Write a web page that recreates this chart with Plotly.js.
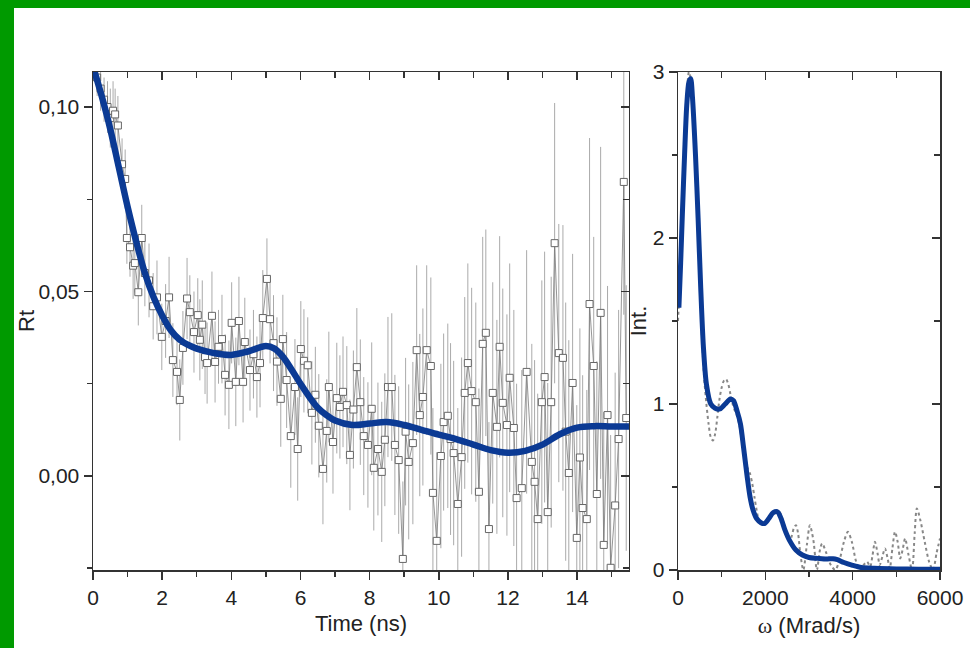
<!DOCTYPE html>
<html>
<head>
<meta charset="utf-8">
<script src="https://cdn.plot.ly/plotly-3.0.1.min.js"></script>
<style>
  html, body { margin: 0; padding: 0; width: 970px; height: 648px; background: #009a00; overflow: hidden; }
  #plot { position: absolute; left: 14px; top: 8px; width: 956px; height: 640px; background: #ffffff; }
</style>
</head>
<body>
<div id="plot"></div>
<script>
// ---- Left panel: anisotropy decay r(t) ----
const timeNs = [0.12,0.22,0.32,0.42,0.50,0.58,0.64,0.72,0.84,0.93,0.98,1.07,1.16,1.21,1.31,1.41,1.50,1.62,1.74,1.85,
  1.99,2.10,2.20,2.31,2.43,2.51,2.60,2.72,2.80,2.92,3.03,3.09,3.16,3.24,3.30,3.44,3.53,3.63,3.73,3.82,
  3.93,4.01,4.13,4.22,4.34,4.39,4.54,4.64,4.74,4.83,4.91,5.03,5.12,5.22,5.32,5.43,5.49,5.60,5.72,5.84,
  5.92,6.01,6.10,6.21,6.33,6.43,6.53,6.65,6.76,6.82,6.94,7.05,7.14,7.23,7.34,7.43,7.53,7.63,7.73,7.83,
  7.95,8.06,8.12,8.24,8.35,8.44,8.53,8.64,8.73,8.84,8.96,9.04,9.13,9.25,9.36,9.45,9.54,9.65,9.77,9.83,
  9.94,10.06,10.14,10.26,10.34,10.43,10.55,10.66,10.75,10.84,10.95,11.07,11.16,11.27,11.36,11.45,11.56,11.68,11.76,11.85,
  11.97,12.05,12.17,12.25,12.40,12.54,12.69,12.77,12.86,12.98,13.06,13.15,13.25,13.35,13.47,13.59,13.67,13.76,13.87,13.99,
  14.08,14.16,14.28,14.36,14.48,14.57,14.68,14.77,14.88,14.97,15.10,15.20,15.35,15.42];
const rtData = [0.108,0.105,0.102,0.100,0.097,0.099,0.098,0.095,0.0845,0.0805,0.0645,0.062,0.057,0.0577,0.0498,0.0645,0.055,0.053,0.046,0.0484,
  0.0377,0.042,0.0484,0.0314,0.0282,0.0206,0.0347,0.0481,0.0444,0.039,0.0436,0.0369,0.041,0.0322,0.0306,0.0434,0.0309,0.035,0.0371,0.0274,
  0.0247,0.0415,0.0255,0.042,0.0255,0.0363,0.0287,0.033,0.0268,0.0306,0.0428,0.0534,0.0425,0.036,0.031,0.0209,0.0371,0.026,0.0108,0.0241,
  0.0073,0.0344,0.0312,0.0300,0.0171,0.022,0.0136,0.0019,0.0122,0.0241,0.0092,0.0211,0.0187,0.0228,0.0192,0.0057,0.018,0.0295,0.020,0.0108,
  0.0084,0.0182,0.0022,0.0073,0.0011,0.0098,0.0241,0.0241,0.0084,0.0043,-0.0225,0.012,0.0038,0.0089,0.0341,0.0165,0.0214,0.0341,0.0298,-0.0046,
  -0.0176,0.0054,0.0146,0.0163,0.010,0.0062,-0.0076,0.0051,0.0225,0.0306,0.0230,0.0200,-0.0043,0.0358,0.0388,-0.0144,0.0225,0.0133,0.0350,0.0198,
  0.0138,0.0266,0.0130,-0.0060,-0.0033,0.0282,0.0038,-0.0016,-0.0117,0.0200,0.0268,-0.0098,0.020,0.0631,0.0333,0.0320,0.012,0.0008,0.0252,-0.0168,
  0.005,-0.0087,-0.0117,0.0466,0.0298,-0.0049,0.0442,-0.0187,0.0165,-0.0249,-0.008,0.010,0.0797,0.0157];
const rtErr = [0.005,0.006,0.006,0.007,0.008,0.008,0.007,0.008,0.007,0.008,0.007,0.008,0.009,0.008,0.009,0.009,0.009,0.010,0.009,0.010,
  0.009,0.010,0.011,0.010,0.009,0.011,0.010,0.011,0.010,0.011,0.010,0.011,0.012,0.010,0.011,0.012,0.011,0.010,0.012,0.011,
  0.012,0.011,0.012,0.012,0.011,0.012,0.011,0.012,0.011,0.012,0.013,0.011,0.012,0.013,0.012,0.013,0.012,0.013,0.014,0.013,
  0.014,0.013,0.014,0.013,0.014,0.013,0.014,0.015,0.014,0.015,0.014,0.015,0.014,0.015,0.016,0.015,0.016,0.016,0.017,0.016,
  0.017,0.018,0.017,0.018,0.019,0.018,0.019,0.020,0.019,0.020,0.021,0.020,0.021,0.022,0.023,0.022,0.024,0.023,0.024,0.023,
  0.024,0.025,0.024,0.025,0.026,0.025,0.026,0.027,0.026,0.027,0.028,0.027,0.028,0.029,0.028,0.029,0.030,0.029,0.030,0.031,
  0.030,0.031,0.032,0.031,0.032,0.033,0.032,0.033,0.034,0.033,0.034,0.035,0.034,0.038,0.035,0.036,0.035,0.036,0.035,0.036,
  0.035,0.036,0.035,0.045,0.035,0.036,0.045,0.036,0.035,0.036,0.036,0.035,0.036,0.036];
const fitTime = [0,0.25,0.5,0.75,1.0,1.25,1.5,1.75,2.0,2.25,2.5,2.75,3.0,3.5,4.0,4.5,5.0,5.25,5.5,5.75,
  6.0,6.25,6.5,6.75,7.0,7.5,8.0,8.5,9.0,9.5,10,10.5,11,11.5,12,12.5,13,13.5,14,14.5,15,15.5];
const fitRt = [0.111,0.103,0.094,0.0835,0.073,0.0635,0.055,0.0485,0.0435,0.0395,0.037,0.0355,0.0345,0.0333,0.0328,0.0338,0.0352,0.0345,0.0322,0.0287,
  0.025,0.0215,0.0185,0.0165,0.015,0.0138,0.0142,0.0146,0.0138,0.0125,0.0112,0.0100,0.0085,0.0070,0.0063,0.0068,0.0085,0.0113,0.0131,0.0135,0.0134,0.0134];

// ---- Right panel: frequency spectrum ----
const omega = [0,50,100,150,200,250,300,350,400,450,500,550,600,650,700,750,800,850,900,950,
  1000,1050,1100,1150,1200,1250,1300,1350,1400,1450,1500,1550,1600,1650,1700,1750,1800,1850,1900,1950,
  2000,2100,2200,2300,2400,2500,2550,2600,2650,2700,2750,2800,2870,2950,3020,3100,3180,3250,3300,3400,
  3500,3600,3700,3800,3890,3980,4080,4170,4250,4330,4400,4450,4510,4570,4620,4680,4740,4800,4850,4910,
  4970,5030,5090,5150,5200,5280,5360,5420,5470,5550,5650,5750,5840,5920,6000];
const intData = [1.5,1.8,2.15,2.5,2.85,3.0,2.95,2.75,2.45,2.1,1.75,1.4,1.15,1.0,0.88,0.8,0.78,0.82,0.92,1.03,
  1.1,1.14,1.15,1.12,1.06,1.0,0.96,0.93,0.88,0.8,0.72,0.65,0.61,0.58,0.52,0.44,0.36,0.3,0.28,0.28,
  0.29,0.31,0.35,0.36,0.3,0.2,0.17,0.2,0.25,0.27,0.22,0.1,0.0,0.15,0.27,0.18,0.0,0.12,0.16,0.1,
  0.03,0.0,0.06,0.17,0.23,0.17,0.05,0.0,0.03,0.05,0.02,0.08,0.17,0.1,0.03,0.08,0.13,0.07,0.01,0.13,
  0.23,0.17,0.07,0.13,0.19,0.09,0.0,0.22,0.37,0.3,0.17,0.05,0.0,0.1,0.19];
const omegaFit = [20,60,100,150,200,250,290,330,400,460,520,580,650,750,850,960,1080,1200,1270,1350,
  1430,1500,1580,1650,1720,1800,1900,1980,2080,2180,2280,2360,2450,2550,2700,2850,3000,3200,3400,3550,
  3650,3800,4000,4200,4500,5000,5500,6000];
const intFit = [1.58,1.85,2.15,2.5,2.8,2.94,2.96,2.85,2.5,2.12,1.7,1.35,1.12,1.0,0.975,0.97,1.0,1.03,1.02,0.96,
  0.88,0.74,0.57,0.44,0.36,0.31,0.285,0.28,0.31,0.345,0.35,0.31,0.24,0.18,0.12,0.09,0.075,0.07,0.066,0.068,
  0.062,0.045,0.028,0.015,0.01,0.006,0.005,0.005];

const blue = '#0b3a94';
const txt = '#222222';
const axCol = '#333333';
const FONT = 'Liberation Sans, Arial, sans-serif';

const traces = [
  {
    x: timeNs, y: rtData, xaxis: 'x', yaxis: 'y', type: 'scatter', mode: 'lines+markers',
    line: { color: '#7a7a7a', width: 0.8 },
    marker: { symbol: 'square', size: 7, color: '#ffffff', line: { color: '#666666', width: 1 } },
    error_y: { type: 'data', array: rtErr, visible: true, color: '#aaaaaa', thickness: 1, width: 0 },
    showlegend: false, hoverinfo: 'x+y'
  },
  {
    x: fitTime, y: fitRt, xaxis: 'x', yaxis: 'y', type: 'scatter', mode: 'lines',
    line: { color: blue, width: 6.5, shape: 'spline', smoothing: 1 },
    showlegend: false
  },
  {
    x: omega, y: intData, xaxis: 'x2', yaxis: 'y2', type: 'scatter', mode: 'lines',
    line: { color: '#888888', width: 2, dash: 'dot', shape: 'spline', smoothing: 0.8 },
    showlegend: false
  },
  {
    x: omegaFit, y: intFit, xaxis: 'x2', yaxis: 'y2', type: 'scatter', mode: 'lines',
    line: { color: blue, width: 5, shape: 'spline', smoothing: 0.8 },
    showlegend: false
  },
  // empty helper traces so the mirrored frame axes (top / right) are drawn
  { x: [], y: [], xaxis: 'x3', yaxis: 'y3', type: 'scatter', mode: 'lines', showlegend: false, hoverinfo: 'skip' },
  { x: [], y: [], xaxis: 'x4', yaxis: 'y4', type: 'scatter', mode: 'lines', showlegend: false, hoverinfo: 'skip' }
];

const baseAxis = {
  showline: true, linecolor: axCol, linewidth: 1.5, showgrid: false, zeroline: false,
  ticks: 'outside', ticklen: 8, tickwidth: 1.5, tickcolor: axCol,
  tickfont: { family: FONT, size: 21, color: txt }
};
const mirrorAxis = {
  showline: true, linecolor: axCol, linewidth: 1.5, showgrid: false, zeroline: false,
  ticks: 'inside', ticklen: 8, tickwidth: 1.5, tickcolor: axCol, showticklabels: false
};

const layout = {
  width: 956, height: 640, autosize: false,
  margin: { l: 79, r: 30, t: 64, b: 78 },
  paper_bgcolor: '#ffffff', plot_bgcolor: '#ffffff',
  separators: ',.',
  showlegend: false,
  font: { family: FONT, color: txt },
  xaxis: Object.assign({}, baseAxis, {
    domain: [0, 0.6328], range: [0, 15.5], tick0: 0, dtick: 2, anchor: 'y',
    minor: { dtick: 1, ticks: 'outside', ticklen: 5, tickwidth: 1.5, tickcolor: axCol },
    title: { text: 'Time (ns)', font: { family: FONT, size: 22, color: txt }, standoff: 8 }
  }),
  yaxis: Object.assign({}, baseAxis, {
    domain: [0, 1], range: [-0.0255, 0.1095], tick0: 0, dtick: 0.05, tickformat: '.2f', anchor: 'x',
    minor: { dtick: 0.025, ticks: 'outside', ticklen: 5, tickwidth: 1.5, tickcolor: axCol },
    title: { text: 'Rt', font: { family: FONT, size: 22, color: txt }, standoff: 6 }
  }),
  xaxis3: Object.assign({}, mirrorAxis, {
    overlaying: 'x', side: 'top', anchor: 'y3', range: [0, 15.5], tick0: 0, dtick: 2,
    minor: { dtick: 1, ticks: 'inside', ticklen: 6, tickwidth: 1.5, tickcolor: axCol }
  }),
  yaxis3: Object.assign({}, mirrorAxis, {
    overlaying: 'y', side: 'right', anchor: 'x3', range: [-0.0255, 0.1095], tick0: 0, dtick: 0.05,
    minor: { dtick: 0.025, ticks: 'inside', ticklen: 6, tickwidth: 1.5, tickcolor: axCol }
  }),
  xaxis2: Object.assign({}, baseAxis, {
    domain: [0.6907, 1.0], range: [0, 6000], tick0: 0, dtick: 2000, anchor: 'y2',
    minor: { dtick: 1000, ticks: 'outside', ticklen: 5, tickwidth: 1.5, tickcolor: axCol },
    title: { text: '<span style="font-family:Liberation Serif, Times New Roman, serif">ω</span> (Mrad/s)', font: { family: FONT, size: 22, color: txt }, standoff: 10 }
  }),
  yaxis2: Object.assign({}, baseAxis, {
    domain: [0, 1], range: [0, 3], tick0: 0, dtick: 1, anchor: 'x2',
    minor: { dtick: 0.5, ticks: 'outside', ticklen: 5, tickwidth: 1.5, tickcolor: axCol },
    title: { text: 'Int.', font: { family: FONT, size: 22, color: txt }, standoff: 0 }
  }),
  xaxis4: Object.assign({}, mirrorAxis, {
    overlaying: 'x2', side: 'top', anchor: 'y4', range: [0, 6000], tick0: 0, dtick: 2000,
    minor: { dtick: 1000, ticks: 'inside', ticklen: 6, tickwidth: 1.5, tickcolor: axCol }
  }),
  yaxis4: Object.assign({}, mirrorAxis, {
    overlaying: 'y2', side: 'right', anchor: 'x4', range: [0, 3], tick0: 0, dtick: 1,
    minor: { dtick: 0.5, ticks: 'inside', ticklen: 6, tickwidth: 1.5, tickcolor: axCol }
  })
};

Plotly.newPlot('plot', traces, layout, { displayModeBar: false, staticPlot: true });
</script>
</body>
</html>
